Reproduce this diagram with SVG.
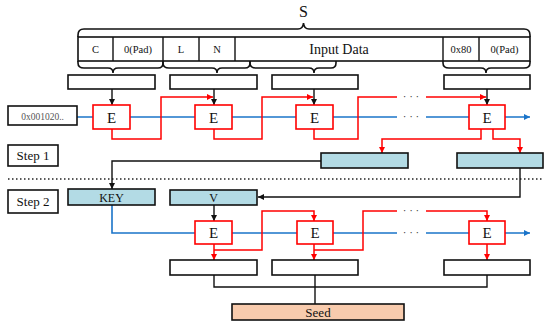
<svg xmlns="http://www.w3.org/2000/svg" width="550" height="326" viewBox="0 0 550 326">
<style>
text{font-family:"Liberation Serif","DejaVu Serif",serif;fill:#111;text-anchor:middle}
.box{fill:#fff;stroke:#111;stroke-width:1.6}
.blu{fill:#b3dbe5;stroke:#111;stroke-width:1.6}
.e{fill:#fff;stroke:#f00;stroke-width:1.6}
.k{fill:none;stroke:#111;stroke-width:1.4}
.r{fill:none;stroke:#f00;stroke-width:1.5}
.b{fill:none;stroke:#1a74c9;stroke-width:1.6}
.et{font-size:15px}
.st{font-size:13px}
.sm{font-size:10.5px}
.dots{font-size:11px;fill:#333}
</style>
<defs>
<marker id="ak" viewBox="0 0 10 10" refX="10" refY="5" markerWidth="6" markerHeight="6" markerUnits="userSpaceOnUse" orient="auto"><path d="M0,0L10,5L0,10z" fill="#111"/></marker>
<marker id="ar" viewBox="0 0 10 10" refX="10" refY="5" markerWidth="6" markerHeight="6" markerUnits="userSpaceOnUse" orient="auto"><path d="M0,0L10,5L0,10z" fill="#f00"/></marker>
<marker id="ab" viewBox="0 0 10 10" refX="10" refY="5" markerWidth="6" markerHeight="6" markerUnits="userSpaceOnUse" orient="auto"><path d="M0,0L10,5L0,10z" fill="#1a74c9"/></marker>
</defs>

<g id="connectors">
  <!-- row 1 -->
  <path class="b" d="M77,117H397"/>
  <path class="b" d="M426,117H530" marker-end="url(#ab)"/>
  <path class="k" d="M112,89V105" marker-end="url(#ak)"/>
  <path class="k" d="M214,89V105" marker-end="url(#ak)"/>
  <path class="k" d="M314,89V105" marker-end="url(#ak)"/>
  <path class="k" d="M487,89V105" marker-end="url(#ak)"/>
  <path class="r" d="M112,129V139H161V97H213" marker-end="url(#ar)"/>
  <path class="r" d="M214,129V139H262V97H313" marker-end="url(#ar)"/>
  <path class="r" d="M314,129V139H358V97H397"/>
  <path class="r" d="M426,97H486" marker-end="url(#ar)"/>
  <path class="r" d="M481,129V139H382V153" marker-end="url(#ar)"/>
  <path class="r" d="M493,129V139H520V153" marker-end="url(#ar)"/>
  <text class="dots" x="411" y="100">· · ·</text>
  <text class="dots" x="411" y="120">· · ·</text>
  <!-- between steps -->
  <path d="M8,179H543" fill="none" stroke="#222" stroke-width="1.5" stroke-dasharray="1.5 2.5"/>
  <path class="k" d="M321,161H112V189" marker-end="url(#ak)"/>
  <path class="k" d="M520,168V197H258" marker-end="url(#ak)"/>
  <!-- row 2 -->
  <path class="b" d="M112,205V233H397"/>
  <path class="b" d="M426,233H530" marker-end="url(#ab)"/>
  <path class="k" d="M214,205V221" marker-end="url(#ak)"/>
  <path class="r" d="M214,244V260" marker-end="url(#ar)"/>
  <path class="r" d="M214,250H262V211H314V221" marker-end="url(#ar)"/>
  <path class="r" d="M314,244V260" marker-end="url(#ar)"/>
  <path class="r" d="M314,250H363V211H397"/>
  <path class="r" d="M426,211H487V221" marker-end="url(#ar)"/>
  <path class="r" d="M487,244V260" marker-end="url(#ar)"/>
  <text class="dots" x="411" y="214">· · ·</text>
  <text class="dots" x="411" y="236">· · ·</text>
  <path class="k" d="M214,275V287H487V275"/>
  <path class="k" d="M315,275V304"/>
</g>

<g id="s-label"><text x="303.5" y="17" style="font-size:16px">S</text></g>

<g id="braces" fill="none" stroke="#111" stroke-width="1.6">
  <path d="M78,37V35Q78,29 84,29H298Q303,29 303.5,23Q304,29 309,29H524Q530,29 530,35V37"/>
  <path d="M78,61V63Q78,68 84,68H108Q113,68 113,73Q113,68 118,68H158Q163,68 163,63V61"/>
  <path d="M163,61V63Q163,68 169,68H212Q217,68 217,73Q217,68 222,68H245Q250,68 250,63V61"/>
  <path d="M250,61V63Q250,68 256,68H309Q314,68 314,73Q314,68 319,68H331Q336,68 336,63V61"/>
  <path d="M443,61V63Q443,68 449,68H481Q486,68 486,73Q486,68 491,68H524Q530,68 530,63V61"/>
</g>

<g id="input-table">
  <rect x="78" y="37" width="452" height="24" fill="#fff" stroke="#111" stroke-width="1.6"/>
  <path d="M113,37V61M163,37V61M199,37V61M235,37V61M443,37V61M479,37V61" stroke="#111" stroke-width="1.4"/>
  <text class="sm" x="95.5" y="53">C</text>
  <text class="sm" x="138" y="53">0(Pad)</text>
  <text class="sm" x="181" y="53">L</text>
  <text class="sm" x="217" y="53">N</text>
  <text x="339" y="54" style="font-size:14px">Input Data</text>
  <text class="sm" x="461" y="53">0x80</text>
  <text class="sm" x="504.5" y="53">0(Pad)</text>
</g>

<g id="block1"><rect class="box" x="68" y="75" width="87" height="14"/></g>
<g id="block2"><rect class="box" x="170" y="75" width="87" height="14"/></g>
<g id="block3"><rect class="box" x="272" y="75" width="86" height="14"/></g>
<g id="block4"><rect class="box" x="444" y="75" width="86" height="14"/></g>

<g id="iv"><rect class="box" x="8" y="106" width="69" height="19"/><text x="42.5" y="119.5" style="font-size:9.5px;fill:#555">0x001020..</text></g>

<g id="e1"><rect class="e" x="93" y="105" width="37" height="24"/><text class="et" x="111.5" y="122.5">E</text></g>
<g id="e2"><rect class="e" x="195" y="105" width="37" height="24"/><text class="et" x="213.5" y="122.5">E</text></g>
<g id="e3"><rect class="e" x="296" y="105" width="37" height="24"/><text class="et" x="314.5" y="122.5">E</text></g>
<g id="e4"><rect class="e" x="469" y="105" width="36" height="24"/><text class="et" x="487" y="122.5">E</text></g>

<g id="step1"><rect class="box" x="8" y="145" width="50" height="21"/><text class="st" x="33" y="160">Step 1</text></g>
<g id="out1"><rect class="blu" x="321" y="153" width="87" height="15"/></g>
<g id="out2"><rect class="blu" x="457" y="153" width="86" height="15"/></g>

<g id="step2"><rect class="box" x="8" y="190" width="50" height="23"/><text class="st" x="33" y="206">Step 2</text></g>
<g id="key"><rect class="blu" x="68" y="189" width="87" height="16"/><text x="111.5" y="201.5" style="font-size:12px">KEY</text></g>
<g id="v"><rect class="blu" x="170" y="190" width="87" height="15"/><text x="213.5" y="202" style="font-size:12px">V</text></g>

<g id="e5"><rect class="e" x="195" y="221" width="37" height="23"/><text class="et" x="213.5" y="238">E</text></g>
<g id="e6"><rect class="e" x="297" y="221" width="36" height="23"/><text class="et" x="315" y="238">E</text></g>
<g id="e7"><rect class="e" x="469" y="221" width="36" height="23"/><text class="et" x="487" y="238">E</text></g>

<g id="res1"><rect class="box" x="170" y="260" width="87" height="15"/></g>
<g id="res2"><rect class="box" x="272" y="260" width="86" height="15"/></g>
<g id="res3"><rect class="box" x="444" y="260" width="86" height="15"/></g>

<g id="seed"><rect x="232" y="304" width="172" height="16" fill="#f8cbad" stroke="#111" stroke-width="1.6"/><text x="318" y="316.5" style="font-size:13px">Seed</text></g>
</svg>
